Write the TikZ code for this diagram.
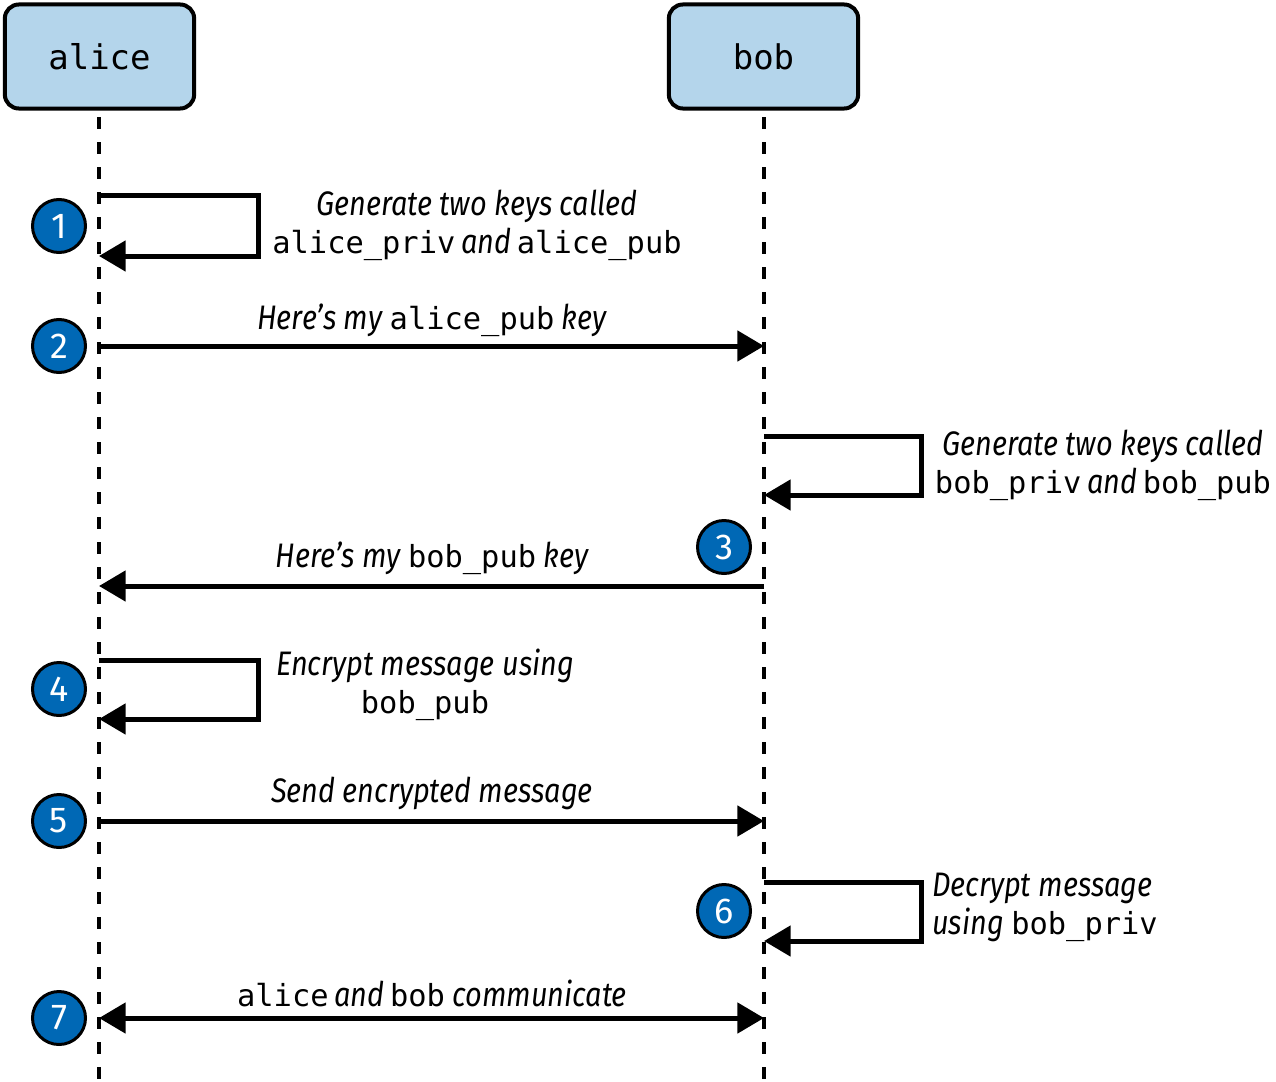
\documentclass[tikz,border=0pt]{standalone}
\usepackage{fontspec}
\setmainfont{Fira Sans}
\setmonofont{DejaVu Sans Mono}
\newfontfamily\lblfont{Fira Sans}[FakeStretch=0.85]
\usetikzlibrary{arrows.meta}
\definecolor{boxblue}{HTML}{B4D5EB}
\definecolor{numblue}{HTML}{0068B5}
\newcommand\cd[1]{{\upshape\ttfamily\fontsize{22.8}{28.5}\selectfont #1}}
\tikzset{
  actor/.style={draw=black, line width=3pt, fill=boxblue, rounded corners=10.5pt,
    minimum width=142pt, minimum height=78pt, font=\ttfamily\fontsize{25.5}{30}\selectfont},
  lifeline/.style={line width=3pt, dash pattern=on 9pt off 9.75pt},
  msg/.style={line width=3.75pt, -{Triangle[length=20pt,width=22.5pt]}},
  dmsg/.style={line width=3.75pt, {Triangle[length=20pt,width=22.5pt]}-{Triangle[length=20pt,width=22.5pt]}},
  num/.style={circle, draw=black, line width=2.25pt, fill=numblue, text=white,
    minimum size=39.75pt, inner sep=0pt, font=\fontsize{27}{30}\selectfont},
  lbl/.style={inner sep=0pt, align=center, font=\lblfont\itshape\fontsize{25.5}{28.5}\selectfont}
}
\begin{document}
\begin{tikzpicture}[x=0.75pt,y=-0.75pt]
\useasboundingbox (0,0) rectangle (1276,1081);
% actors
\node[actor] (alice) at (99.5,56.5) {alice};
\node[actor] (bob) at (763.5,56.5) {bob};
\coordinate (atop) at (99,117);
\coordinate (abot) at (99,1081);
\coordinate (btop) at (764,117);
\coordinate (bbot) at (764,1081);
\draw[lifeline] (atop) -- (abot);
\draw[lifeline] (btop) -- (bbot);
% loop x positions
\coordinate (aloop) at (258,0);
\coordinate (bloop) at (921,0);
% step 1
\coordinate (a1s) at (99,195);
\coordinate (a1e) at (99,256);
\draw[msg] (a1s) -- (a1s -| aloop) |- (a1e);
\node[lbl] (t1) at (477,225) {Generate two keys called\\\cd{alice\_priv}\,and\,\cd{alice\_pub}};
\node[num] (n1) at (59,226) {1};
% step 2
\coordinate (a2) at (99,346);
\coordinate (b2) at (764,346);
\draw[msg] (a2) -- (b2);
\node[lbl] (t2) at (432,320) {Here’s my \cd{alice\_pub} key};
\node[num] (n2) at (59,346) {2};
% step 3 (bob keys)
\coordinate (b3s) at (764,436);
\coordinate (b3e) at (764,495);
\draw[msg] (b3s) -- (b3s -| bloop) |- (b3e);
\node[lbl] (t3) at (1103,465) {Generate two keys called\\\cd{bob\_priv}\,and\,\cd{bob\_pub}};
\node[num] (n3) at (724,547) {3};
% bob -> alice
\coordinate (b4) at (764,586);
\coordinate (a4) at (99,586);
\draw[msg] (b4) -- (a4);
\node[lbl] (t4) at (432,558) {Here’s my \cd{bob\_pub} key};
% step 4
\coordinate (a5s) at (99,660);
\coordinate (a5e) at (99,719);
\draw[msg] (a5s) -- (a5s -| aloop) |- (a5e);
\node[lbl] (t5) at (425,685) {Encrypt message using\\\cd{bob\_pub}};
\node[num] (n4) at (59,689) {4};
% step 5
\coordinate (a6) at (99,821);
\coordinate (b6) at (764,821);
\draw[msg] (a6) -- (b6);
\node[lbl] (t6) at (432,793) {Send encrypted message};
\node[num] (n5) at (59,821) {5};
% step 6
\coordinate (b7s) at (764,882);
\coordinate (b7e) at (764,941);
\draw[msg] (b7s) -- (b7s -| bloop) |- (b7e);
\node[lbl, anchor=west, align=left] (t7) at (932,907) {Decrypt message\\using \cd{bob\_priv}};
\node[num] (n6) at (724,911) {6};
% step 7
\coordinate (a8) at (99,1018);
\coordinate (b8) at (764,1018);
\draw[dmsg] (a8) -- (b8);
\node[lbl] (t8) at (432,993) {\cd{alice}\,and\,\cd{bob} communicate};
\node[num] (n7) at (59,1018) {7};
\end{tikzpicture}
\end{document}
